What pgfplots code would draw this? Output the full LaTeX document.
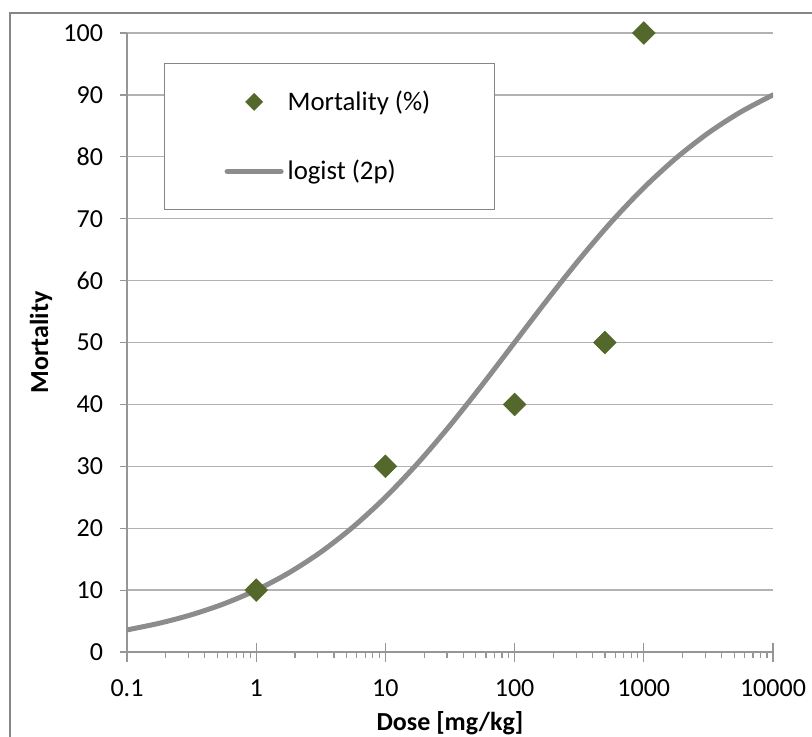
\documentclass[border=0pt]{standalone}
\usepackage{fontspec}
\setmainfont{Carlito}
\usepackage{pgfplots}
\pgfplotsset{compat=1.18}
\definecolor{dotgreen}{RGB}{84,104,44}
\definecolor{curvegray}{RGB}{140,140,140}
\definecolor{gridgray}{RGB}{178,178,178}
\definecolor{axisgray}{RGB}{150,150,150}
\definecolor{framegray}{RGB}{134,134,134}
\pgfplotsset{
  lineleg/.style={legend image code/.code={\draw[##1] (0pt,0pt) -- (27pt,0pt);}},
  markleg/.style={legend image code/.code={\draw[##1, mark size=3pt, mark repeat=2, mark phase=2] plot coordinates {(0pt,0pt) (13.5pt,0pt) (27pt,0pt)};}},
}
\begin{document}
\begin{tikzpicture}[font=\fontsize{13}{15}\selectfont]
\begin{axis}[
  at={(0,0)}, anchor=south west,
  scale only axis, width=323pt, height=309.5pt,
  xmode=log, log basis x=10,
  xmin=0.1, xmax=10000, ymin=0, ymax=100,
  xtick={0.1,1,10,100,1000,10000},
  xticklabels={0.1,1,10,100,1000,10000},
  minor xtick={0.2,0.3,0.4,0.5,0.6,0.7,0.8,0.9,
    2,3,4,5,6,7,8,9,20,30,40,50,60,70,80,90,
    200,300,400,500,600,700,800,900,2000,3000,4000,5000,6000,7000,8000,9000},
  ytick={0,10,20,30,40,50,60,70,80,90,100},
  axis x line=bottom, axis y line=left,
  axis line style={draw=axisgray, line width=0.6pt, -},
  ymajorgrids, grid style={gridgray, line width=0.65pt},
  tick style={axisgray, line width=0.6pt},
  major tick length=3.5pt, minor tick length=3pt,
  tick align=outside,
  extra x ticks={0.1,1,10,100,1000,10000},
  extra x tick labels={},
  extra x tick style={tick align=center, major tick length=9.5pt},
  /pgf/number format/assume math mode=true,
  xticklabel style={font=\fontsize{13}{15}\selectfont, yshift=-7pt},
  yticklabel style={font=\fontsize{13}{15}\selectfont, xshift=-5pt},
  every axis x label/.style={at={(axis description cs:0.5,-0.1147)}, anchor=center},
  every axis y label/.style={at={(axis description cs:-0.1331,0.5)}, rotate=90, anchor=center},
  xlabel={\bfseries Dose [mg/kg]},
  ylabel={\bfseries Mortality},
  reverse legend,
  legend style={at={(axis description cs:0.0573,0.9515)}, anchor=north west,
    draw=framegray, line width=0.6pt, inner xsep=30pt, inner ysep=11.5pt, row sep=19.5pt,
    font=\fontsize{13.4}{15}\selectfont, cells={anchor=west}},
]
\addplot[curvegray, line width=2.5pt, line cap=round, smooth, lineleg] coordinates {
  (0.1,3.571) (0.17783,4.648) (0.31623,6.028) (0.56234,7.785)
  (1,10) (1.7783,12.758) (3.1623,16.139) (5.6234,20.210)
  (10,25) (17.783,30.492) (31.623,36.603) (56.234,43.177)
  (100,50) (177.83,56.823) (316.23,63.397) (562.34,69.508)
  (1000,75) (1778.3,79.790) (3162.3,83.861) (5623.4,87.242)
  (10000,90)
};
\addlegendentry{logist (2p)}
\addplot[only marks, mark=square*, mark size=4pt,
  mark options={draw=dotgreen, fill=dotgreen, rotate=45, line width=0.3pt},
  markleg] coordinates {
  (1,10) (10,30) (100,40) (500,50) (1000,100)
};
\addlegendentry{Mortality (\%)}
\end{axis}
\draw[framegray, line width=1pt] (-58.5pt,-80pt) |- (400pt,319.5pt);
\pgfresetboundingbox
\useasboundingbox (-63.5pt,-42pt) rectangle (342.5pt,326pt);
\end{tikzpicture}
\end{document}
